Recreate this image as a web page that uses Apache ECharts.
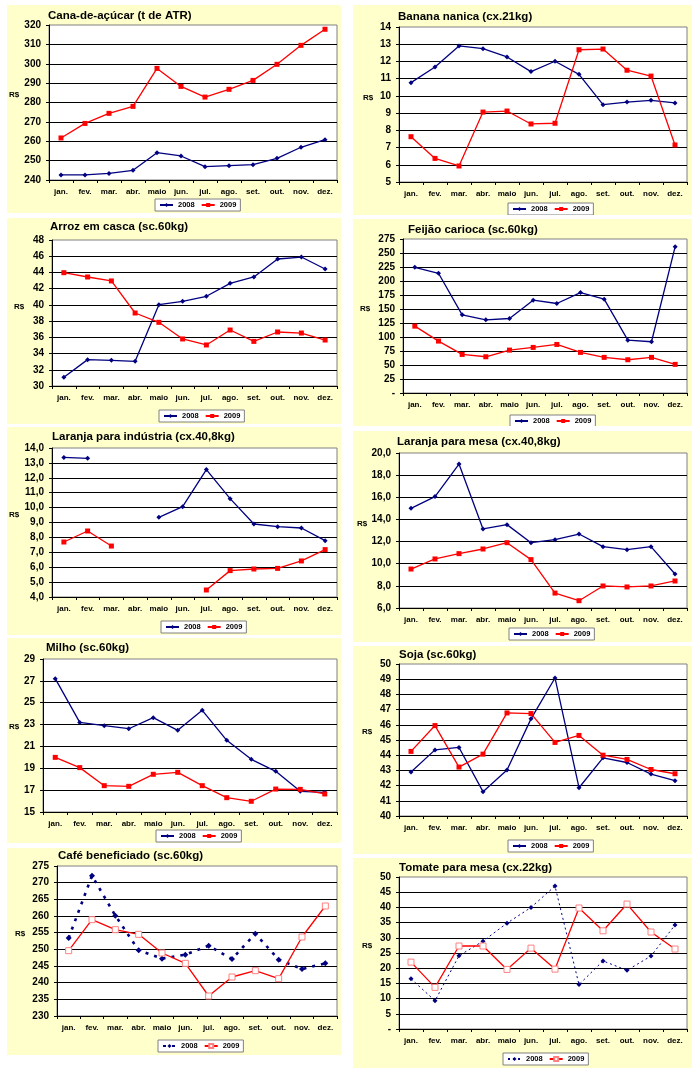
<!DOCTYPE html>
<html><head><meta charset="utf-8">
<script src="https://cdn.jsdelivr.net/npm/echarts@6/dist/echarts.min.js"></script>
<style>
html,body{margin:0;padding:0;background:#fff;width:700px;height:1073px;overflow:hidden;}
.p{position:absolute;background:#FFFFCC;}
</style></head><body>
<script>
const months = ['jan.','fev.','mar.','abr.','maio','jun.','jul.','ago.','set.','out.','nov.','dez.'];
const seriesNames = ['2008','2009'];

const cana2008 = [242.6,242.6,243.4,245.0,254.1,252.4,246.9,247.4,247.9,251.2,256.9,260.8];
const cana2009 = [261.7,269.2,274.4,278.0,297.6,288.3,282.8,286.8,291.4,299.7,309.5,317.8];
const banana2008 = [10.77,11.68,12.9,12.74,12.26,11.41,12.01,11.25,9.49,9.64,9.74,9.59];
const banana2009 = [7.63,6.37,5.93,9.06,9.12,8.37,8.41,12.68,12.72,11.49,11.15,7.15];
const arroz2008 = [31.07,33.25,33.16,33.04,40.03,40.44,41.06,42.66,43.44,45.66,45.9,44.43];
const arroz2009 = [43.97,43.44,42.95,39.0,37.85,35.8,35.06,36.9,35.5,36.66,36.53,35.67];
const feijao2008 = [224.5,213.8,139.6,130.7,133.0,165.7,159.8,179.4,167.5,94.4,91.5,261.3];
const feijao2009 = [119.4,92.7,68.9,64.7,76.6,81.4,86.7,72.5,63.6,59.4,63.6,51.1];
const laranjaInd2008 = [13.37,13.31,null,null,9.35,10.06,12.55,10.6,8.9,8.72,8.63,7.78];
const laranjaInd2009 = [7.69,8.43,7.42,null,null,null,4.47,5.77,5.88,5.92,6.42,7.18];
const laranjaMesa2008 = [15.0,16.06,19.0,13.14,13.53,11.9,12.17,12.68,11.54,11.27,11.54,9.07];
const laranjaMesa2009 = [9.52,10.43,10.91,11.33,11.9,10.37,7.35,6.66,7.99,7.9,7.99,8.44];
const milho2008 = [27.2,23.2,22.9,22.62,23.63,22.47,24.3,21.56,19.82,18.72,16.89,16.8];
const milho2009 = [20.0,19.06,17.41,17.35,18.45,18.63,17.41,16.31,15.98,17.1,17.07,16.65];
const soja2008 = [42.89,44.35,44.51,41.6,43.02,46.39,49.08,41.86,43.83,43.52,42.76,42.32];
const soja2009 = [44.25,45.95,43.22,44.07,46.78,46.74,44.84,45.3,44.0,43.72,43.06,42.78];
const cafe2008 = [253.4,272.1,260.1,249.7,247.2,248.4,251.1,247.1,254.7,246.9,244.1,245.8];
const cafe2009 = [249.6,258.9,255.9,254.5,248.9,245.8,236.0,241.7,243.6,241.2,253.7,263.0];
const tomate2008 = [16.5,9.3,24.1,28.9,34.8,40.0,47.0,14.6,22.4,19.3,24.0,34.2];
const tomate2009 = [22.0,13.7,27.3,27.3,19.6,26.6,19.7,39.8,32.3,41.1,31.9,26.3];

const FF = "'Liberation Sans', Arial, sans-serif";
const BLUE = '#000080', RED = '#FF0000';
const fmtPlain = v => String(v);
const fmtComma = v => v.toFixed(1).replace('.', ',');
const fmtDash = v => v === 0 ? '-' : String(v);

const panels = [
  {title:'Cana-de-açúcar (t de ATR)', box:[7,5,334,208], grid:[42,20,288,155], min:240,max:320,step:10, fmt:fmtPlain, d08:cana2008, d09:cana2009, style:'std', tp:[41,5], lg:[148,194], rs:[7,90]},
  {title:'Banana nanica (cx.21kg)', box:[353,5,339,210], grid:[46,22,288,155], min:5,max:14,step:1, fmt:fmtPlain, d08:banana2008, d09:banana2009, style:'std', tp:[45,6], lg:[155,198], rs:[15,93]},
  {title:'Arroz em casca (sc.60kg)', box:[7,218,334,206], grid:[45,22,285,146], min:30,max:48,step:2, fmt:fmtPlain, d08:arroz2008, d09:arroz2009, style:'std', tp:[43,3], lg:[152,192], rs:[12,89]},
  {title:'Feijão carioca (sc.60kg)', box:[353,219,339,207], grid:[50,20,284,154], min:0,max:275,step:25, fmt:fmtDash, d08:feijao2008, d09:feijao2009, style:'std', tp:[55,5], lg:[157,196], rs:[12,90]},
  {title:'Laranja para indústria (cx.40,8kg)', box:[7,427,334,208], grid:[45,21,285,149], min:4,max:14,step:1, fmt:fmtComma, d08:laranjaInd2008, d09:laranjaInd2009, style:'std', tp:[45,4], lg:[154,194], rs:[7,88]},
  {title:'Laranja para mesa (cx.40,8kg)', box:[353,431,339,211], grid:[46,22,288,155], min:6,max:20,step:2, fmt:fmtComma, d08:laranjaMesa2008, d09:laranjaMesa2009, style:'std', tp:[44,5], lg:[156,197], rs:[9,93]},
  {title:'Milho (sc.60kg)', box:[7,638,334,205], grid:[36,21,294,153], min:15,max:29,step:2, fmt:fmtPlain, d08:milho2008, d09:milho2009, style:'std', tp:[39,4], lg:[149,192], rs:[7,89]},
  {title:'Soja (sc.60kg)', box:[353,646,339,208], grid:[46,18,288,152], min:40,max:50,step:1, fmt:fmtPlain, d08:soja2008, d09:soja2009, style:'std', tp:[46,3], lg:[155,194], rs:[14,86]},
  {title:'Café beneficiado (sc.60kg)', box:[7,848,334,207], grid:[50,18,280,150], min:230,max:275,step:5, fmt:fmtPlain, d08:cafe2008, d09:cafe2009, style:'cafe', tp:[51,2], lg:[151,192], rs:[13,86]},
  {title:'Tomate para mesa (cx.22kg)', box:[353,858,339,210], grid:[46,19,288,152], min:0,max:50,step:5, fmt:fmtDash, d08:tomate2008, d09:tomate2009, style:'tomate', tp:[46,4], lg:[150,195], rs:[14,88]}
];

function makeSeries(p) {
  const s08 = {
    name: seriesNames[0], type:'line', data:p.d08, symbol:'diamond', symbolSize:5,
    itemStyle:{color:BLUE}, lineStyle:{color:BLUE, width:1.3}, connectNulls:false
  };
  const s09 = {
    name: seriesNames[1], type:'line', data:p.d09, symbol:'rect', symbolSize:5,
    itemStyle:{color:RED}, lineStyle:{color:RED, width:1.3}, connectNulls:false
  };
  if (p.style === 'cafe') {
    s08.lineStyle = {color:BLUE, width:2.6, type:[3,6]};
    s08.symbolSize = 6;
  }
  if (p.style === 'tomate') {
    s08.lineStyle = {color:BLUE, width:1, type:[2,3]};
  }
  if (p.style === 'cafe' || p.style === 'tomate') {
    s09.symbolSize = 6;
    s09.itemStyle = {color:'#FFFFFF', borderColor:'#FF8080', borderWidth:1};
  }
  [s08, s09].forEach(s => { s.animation = false; s.emphasis = {disabled:true}; s.z = 3; });
  return [s08, s09];
}

panels.forEach(p => {
  const div = document.createElement('div');
  div.className = 'p';
  div.style.left = p.box[0] + 'px';
  div.style.top = p.box[1] + 'px';
  div.style.width = p.box[2] + 'px';
  div.style.height = p.box[3] + 'px';
  document.body.appendChild(div);
  const chart = echarts.init(div, null, {renderer:'canvas'});
  chart.setOption({
    animation:false,
    backgroundColor:'transparent',
    title:{text:p.title, left:p.tp[0], top:p.tp[1], padding:0,
      textStyle:{fontFamily:FF, fontSize:11.5, fontWeight:'bold', color:'#000'}},
    legend:{data:seriesNames, left:p.lg[0], top:p.lg[1], padding:[2,4], itemGap:6,
      itemWidth:13, itemHeight:5, backgroundColor:'#fff', borderColor:'#808080', borderWidth:1,
      borderRadius:0, selectedMode:false,
      textStyle:{fontFamily:FF, fontSize:7.5, fontWeight:'bold', color:'#000'}},
    grid:{left:p.grid[0], top:p.grid[1], width:p.grid[2], height:p.grid[3], show:true,
      backgroundColor:'#fff', borderColor:'#808080', borderWidth:1, containLabel:false},
    xAxis:{type:'category', data:months, boundaryGap:true,
      axisLine:{lineStyle:{color:'#000', width:1}},
      axisTick:{show:true, interval:0, length:3, lineStyle:{color:'#000'}},
      axisLabel:{interval:0, margin:8, fontFamily:FF, fontSize:8, fontWeight:'bold', color:'#000'},
      splitLine:{show:false}},
    yAxis:{type:'value', min:p.min, max:p.max, interval:p.step,
      axisLine:{show:true, lineStyle:{color:'#000', width:1}},
      axisTick:{show:true, length:3, lineStyle:{color:'#000'}},
      axisLabel:{margin:8, fontFamily:FF, fontSize:10, fontWeight:'bold', color:'#000', formatter:p.fmt},
      splitLine:{show:true, showMaxLine:false, lineStyle:{color:'#000', width:1}}},
    graphic:[{type:'text', x:p.rs[0], y:p.rs[1], silent:true,
      style:{text:'R$', fill:'#000', font:'bold 8px ' + FF, textAlign:'center', textVerticalAlign:'middle'}}],
    series:makeSeries(p)
  });
});
</script>
</body></html>
